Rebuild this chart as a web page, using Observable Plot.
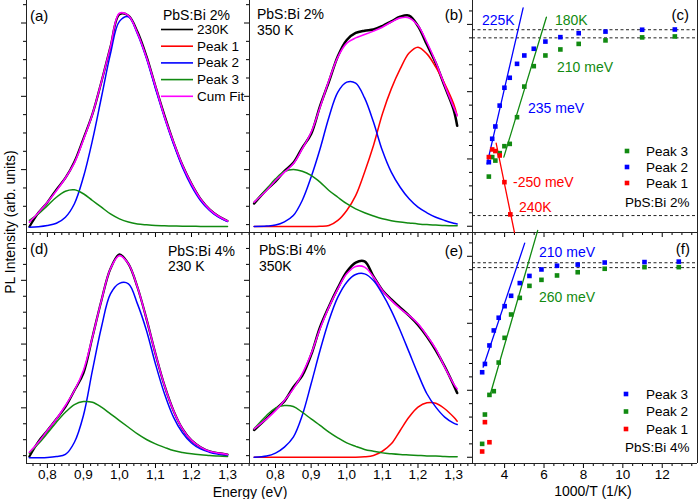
<!DOCTYPE html>
<html><head><meta charset="utf-8">
<script src="https://cdn.jsdelivr.net/npm/d3@7"></script>
<script src="https://cdn.jsdelivr.net/npm/@observablehq/plot@0.6"></script>
<style>
body{margin:0;background:#fff;}
#root{position:relative;width:700px;height:499px;overflow:hidden;font-family:"Liberation Sans",Arial,sans-serif;background:#fff;}
#root svg{position:absolute;overflow:visible;max-width:none;}
</style></head><body><div id="root"></div>
<script>
// ---------- DATA (intensities in % of panel height) ----------
const eLeft  = [0.75,0.775,0.8,0.825,0.85,0.875,0.9,0.925,0.95,0.975,1.0,1.025,1.05,1.075,1.1,1.125,1.15,1.175,1.2,1.225,1.25,1.275,1.3];
const eRight = [0.74,0.775,0.8,0.825,0.85,0.875,0.9,0.925,0.95,0.975,1.0,1.025,1.05,1.075,1.1,1.125,1.15,1.175,1.2,1.225,1.25,1.275,1.3,1.31];

// (a) PbS:Bi 2%, 230K
const aData  = [2.5,8.5,13,18.5,23.5,30.5,40.5,51,65,80,94,93.5,86.5,76,63,50.5,39,29,21,14.5,10,7,5];
const aFit   = [4.5,8.5,13,18,23.5,30,40,51,65,80,94.5,93.5,86,75.5,63,50,39,29,21,14.5,10,7,5];
const aPeak2 = [2.3,2.5,3.0,4.0,6.6,12.4,23.9,39.7,58.3,77,91,93,85.6,75,62,49.5,38.2,28,20,13.8,9.5,6.6,4.7];
const aPeak3 = [5.2,8,11.6,15.2,17.8,18.4,16.7,13.8,10.9,8,5.9,4.5,3.7,3.3,3.0,2.9,2.8,2.7,2.7,2.6,2.6,2.6,2.6];

// (b) PbS:Bi 2%, 350 K
const bData  = [12.5,18.5,22,26.5,30,36.5,42.5,54.5,65,76,83,86,87,87.5,89,91,93,93.5,89,81,73,63,53,46];
const bFit   = [13.1,18.1,22.4,26,29.6,36,43.2,54,65.5,75.6,81.6,83.9,85.3,86.8,88.5,90.7,92.5,92.5,89.2,82,73.4,63.4,54,50.4];
const bPeak1 = [2.6,2.6,2.6,2.6,2.6,2.6,2.6,2.7,3.0,5.2,9.5,15.9,26,37.5,51.1,61.9,70.5,77.4,79.9,77,71.3,64.1,55.5,50.4];
const bPeak2 = [2.6,2.8,3.2,4.6,7.3,13.8,23.9,36,49.7,60.5,64.8,64.4,58,47.6,35.3,26,19.5,14.5,10.9,8.5,6.6,5.2,4.0,3.7];
const bPeak3 = [13,18.8,23.1,26.3,27.2,26.4,24.6,21.7,18.1,15.2,12.4,10.2,8.5,7.1,5.9,5.1,4.5,4.1,3.7,3.4,3.2,3.0,2.9,2.9];

// (d) PbS:Bi 4%, 230 K
const dData  = [3.0,9.5,14.3,19.3,24.5,31.6,39,54.7,70.6,84.3,90.5,86.4,76.3,62.6,47.5,33.8,22.9,15,10,7.1,5.3,4.5,3.9];
const dFit   = [4.9,9.2,14.3,19.3,25.1,31.6,40.3,54.7,70.6,84.3,90,86.4,76.3,62.6,47.5,33.8,22.9,15,10,7.1,5.3,4.5,3.9];
const dPeak2 = [2.5,2.5,2.6,3.0,3.9,9.2,20.8,40.3,59,73.4,78,77.8,69.1,57.6,43.1,30.2,20.1,13.3,8.9,6.3,4.9,4.0,3.3];
const dPeak3 = [4.5,8.5,13.1,17.9,22.2,25.5,26.8,26.5,24.4,21.5,18.6,15.7,12.8,10.4,8.5,7.0,5.6,4.8,4.2,3.8,3.5,3.2,3.0];

// (e) PbS:Bi 4%, 350K
const eData  = [14.5,19.5,23.5,27,33,38,47,59,68,76,83,87,87.5,81,75,71,67.5,64,60,55,49,42,34,30.5];
const eFit   = [15,19.3,22.9,27.3,32.3,38.8,47.5,58.3,67.7,75.6,82.1,85.3,85,80.7,74.9,70.6,67,64.1,60.5,55.4,49.6,41.7,34.5,32.3];
const ePeak1 = [2.7,2.7,2.7,2.7,2.7,2.7,2.7,2.7,2.7,2.7,2.7,2.7,2.9,3.5,5.3,8.5,14.3,20.1,24.4,26.3,26.1,23.7,20.1,18.3];
const ePeak2 = [2.7,3.2,4.5,7.1,11.4,20.8,34.5,48.9,61.9,72,78.5,81.8,82.1,79.2,73.4,66.2,57.6,48.2,38.8,30.2,24.4,20.1,17.5,16.9];
const ePeak3 = [15,20.8,24,25.1,24.7,22.2,19.3,16.5,13.6,11.1,8.9,7.4,6.1,5.3,4.6,4.2,3.9,3.7,3.5,3.3,3.2,3.0,2.9,2.9];

// (c) Arrhenius, PbS:Bi 2%  (x = 1000/T, y = log intensity, arb.)
const cX     = [3.20,3.37,3.53,3.75,3.99,4.26,4.63,5.0,5.48,6.07,6.83,7.76,9.12,10.98,12.64];
const cBlue  = [30.3,40.4,45.7,54.7,62.4,66.7,72.7,76.3,79.2,82.3,84.2,85.9,86.6,87.4,87.5];
const cGreen = [24.1,32.5,31,34.2,37.2,38.2,49.7,62.9,71.7,76.3,78.9,81.3,82.8,84.1,84.5];
const cRedX  = [3.20,3.37,3.53,3.75,3.99,4.29];
const cRed   = [32.5,35.8,35.1,33.2,21.7,7.8];
const cBlueFitX = [3.11,4.94],  cBlueFitY = [29.6,96.8];
const cGreenFitX = [3.96,6.12], cGreenFitY = [32.5,92.8];
const cRedFitX = [3.57,4.5],    cRedFitY = [38.5,0];
const cDash = [87.4,83.9,7.3];

// (f) Arrhenius, PbS:Bi 4%
const fX     = [2.86,3.0,3.23,3.45,3.70,4.0,4.33,4.77,5.26,5.87,6.66,7.71,9.08,11.1,12.84];
const fBlue  = [39.5,43.1,51.1,57.6,63.1,68.1,72.6,78.1,81.2,84,85.6,86.1,87,87.2,87.4];
const fGreen = [8.5,21.2,29.7,31.3,43.7,54.4,64.5,71.7,76.9,79.5,81.4,82.8,84.3,85,85];
const fRedX  = [2.86,3.0,3.23];
const fRed   = [5.2,17.9,9.2];
const fBlueFitX = [2.91,5.02],  fBlueFitY = [41.7,95.4];
const fGreenFitX = [3.28,5.68], fGreenFitY = [30.2,100.9];
const fDash = [86.9,84.8];

// tick labels
const eMajor = [0.8,0.9,1.0,1.1,1.2,1.3];
const tMajor = [4,6,8,10,12];

// ---------- RENDER ----------
const FONT = '"Liberation Sans", Arial, Helvetica, sans-serif';
const COL = {red:"#ff0000", blue:"#0000ff", green:"#118a11", mag:"#ff00ff"};
const root = document.getElementById("root");
const comma = d => d.toFixed(1).replace(".", ",");
const none = () => "";
const M = {l: 40, r: 12, t: 12, b: 40};

function panel({x0, x1, y0, y1, xd, yd, marks}) {
  const w = x1 - x0, h = y1 - y0;
  const svg = Plot.plot({
    width: w + M.l + M.r, height: h + M.t + M.b,
    marginLeft: M.l, marginRight: M.r, marginTop: M.t, marginBottom: M.b,
    x: {domain: xd, axis: null, label: null},
    y: {domain: yd, axis: null, label: null},
    style: {fontFamily: FONT, fontSize: "14px", background: "transparent", color: "#000", overflow: "visible"},
    marks
  });
  svg.style.left = (x0 - M.l) + "px";
  svg.style.top = (y0 - M.t) + "px";
  root.appendChild(svg);
}

const zipS = (xs, ys) => xs.map((x, i) => ({x, y: ys[i]}));

function specPanel(pos, xd, E, d, labels, yStep) {
  const eMinor = d3.range(37, 69).filter(i => i % 5 !== 0).map(i => i * 0.02).filter(v => v > xd[0] && v < xd[1]);
  const yAll = d3.range(3.4, 100, yStep);
  const yMaj = yAll.filter((v, i) => i % 4 === 3);
  const yMin = yAll.filter((v, i) => i % 4 !== 3);
  const crv = "catmull-rom";
  const marks = [
    Plot.axisX(eMajor, {anchor: "bottom", tickSize: 5, tickPadding: 1, tickFormat: labels ? comma : none, fontSize: 13.5, label: null}),
    Plot.axisX(eMinor, {anchor: "bottom", tickSize: 3, tickFormat: none, label: null}),
    Plot.axisY(yMaj, {anchor: "left", tickSize: 5, tickFormat: none, label: null}),
    Plot.axisY(yMin, {anchor: "left", tickSize: 3, tickFormat: none, label: null}),
    Plot.ruleX([xd[0]], {stroke: "#222"}),
    Plot.ruleY([0], {stroke: "#222"}),
    Plot.line(zipS(E, d.data), {x: "x", y: "y", stroke: "#000", strokeWidth: d.dw, curve: crv})
  ];
  if (d.p1) marks.push(Plot.line(zipS(E, d.p1), {x: "x", y: "y", stroke: COL.red, strokeWidth: 1.5, curve: crv}));
  marks.push(Plot.line(zipS(E, d.p2), {x: "x", y: "y", stroke: COL.blue, strokeWidth: 1.5, curve: crv}));
  marks.push(Plot.line(zipS(E, d.p3), {x: "x", y: "y", stroke: COL.green, strokeWidth: 1.5, curve: crv}));
  marks.push(Plot.line(zipS(E, d.fit), {x: "x", y: "y", stroke: COL.mag, strokeWidth: 1.6, curve: crv}));
  panel({...pos, xd, yd: [0, 100], marks});
}

const xdL = [0.742, 1.361], xdR = [0.727, 1.353];
specPanel({x0: 26, x1: 249, y0: 0, y1: 232}, xdL, eLeft, {data: aData, fit: aFit, p2: aPeak2, p3: aPeak3, dw: 2.2}, false, 7.9);
specPanel({x0: 249, x1: 472, y0: 0, y1: 232}, xdR, eRight, {data: bData, fit: bFit, p1: bPeak1, p2: bPeak2, p3: bPeak3, dw: 2.5}, false, 7.9);
specPanel({x0: 26, x1: 249, y0: 232, y1: 463}, xdL, eLeft, {data: dData, fit: dFit, p2: dPeak2, p3: dPeak3, dw: 2.2}, true, 6.9);
specPanel({x0: 249, x1: 472, y0: 232, y1: 463}, xdR, eRight, {data: eData, fit: eFit, p1: ePeak1, p2: ePeak2, p3: ePeak3, dw: 2.5}, true, 6.9);

function arrPanel(pos, labels, d) {
  const xd = [2.37, 13.79];
  const tMinor = d3.range(5, 28).map(i => i * 0.5).filter(v => v % 2 !== 0);
  const yAll = d3.range(2.7, 100, 5.8);
  const yMaj = yAll.filter((v, i) => i % 5 === 0);
  const yMin = yAll.filter((v, i) => i % 5 !== 0);
  const marks = [
    Plot.axisX(tMajor, {anchor: "bottom", tickSize: 5, tickPadding: 1, tickFormat: labels ? (v => String(v)) : none, fontSize: 13.5, label: null}),
    Plot.axisX(tMinor, {anchor: "bottom", tickSize: 3, tickFormat: none, label: null}),
    Plot.axisY(yMaj, {anchor: "left", tickSize: 5, tickFormat: none, label: null}),
    Plot.axisY(yMin, {anchor: "left", tickSize: 3, tickFormat: none, label: null}),
    Plot.ruleX(xd, {stroke: "#222"}),
    Plot.ruleY([0], {stroke: "#222"}),
    Plot.ruleY(d.dash, {stroke: "#222", strokeDasharray: "3,2.5", strokeWidth: 1})
  ];
  for (const f of d.fits) marks.push(Plot.line(zipS(f.x, f.y), {x: "x", y: "y", stroke: f.c, strokeWidth: 1.3}));
  for (const s of d.pts) marks.push(Plot.dot(zipS(s.x, s.y), {x: "x", y: "y", fill: s.c, symbol: "square", r: 2.6}));
  panel({...pos, xd, yd: [0, 100], marks});
}

arrPanel({x0: 472, x1: 697, y0: 0, y1: 232}, false, {
  dash: cDash,
  fits: [{x: cBlueFitX, y: cBlueFitY, c: COL.blue}, {x: cGreenFitX, y: cGreenFitY, c: COL.green}, {x: cRedFitX, y: cRedFitY, c: COL.red}],
  pts: [{x: cX, y: cGreen, c: COL.green}, {x: cX, y: cBlue, c: COL.blue}, {x: cRedX, y: cRed, c: COL.red}]
});
arrPanel({x0: 472, x1: 697, y0: 232, y1: 463}, true, {
  dash: fDash,
  fits: [{x: fBlueFitX, y: fBlueFitY, c: COL.blue}, {x: fGreenFitX, y: fGreenFitY, c: COL.green}],
  pts: [{x: fX, y: fGreen, c: COL.green}, {x: fX, y: fBlue, c: COL.blue}, {x: fRedX, y: fRed, c: COL.red}]
});

// ---------- annotations, legends, titles ----------
const ov = d3.select(root).append("svg").attr("width", 700).attr("height", 499)
  .style("left", "0px").style("top", "0px").style("font-family", FONT);
function txt(x, y, s, o = {}) {
  const t = ov.append("text").attr("x", x).attr("y", y).attr("dominant-baseline", "central")
    .attr("font-size", o.size || 14).attr("fill", o.fill || "#000").attr("text-anchor", o.anchor || "start").text(s);
  if (o.rotate) t.attr("transform", `rotate(-90,${x},${y})`);
  return t;
}
function swatchLine(x1, x2, y, c) {
  ov.append("line").attr("x1", x1).attr("x2", x2).attr("y1", y).attr("y2", y).attr("stroke", c).attr("stroke-width", 1.6);
}
function swatchSq(x, y, c) {
  ov.append("rect").attr("x", x - 2.3).attr("y", y - 2.3).attr("width", 4.6).attr("height", 4.6).attr("fill", c);
}

// (a)
txt(30, 15, "(a)", {size: 15});
txt(163, 15, "PbS:Bi 2%");
const legA = [["230K", "#000"], ["Peak 1", COL.red], ["Peak 2", COL.blue], ["Peak 3", COL.green], ["Cum Fit", COL.mag]];
legA.forEach(([s, c], i) => { const y = 29.5 + i * 16.7; swatchLine(161, 193, y, c); txt(197, y, s, {size: 13.5}); });
// (b)
txt(257, 14, "PbS:Bi 2%");
txt(257, 30, "350 K");
txt(463, 14, "(b)", {size: 15, anchor: "end"});
// (c)
txt(689, 14, "(c)", {size: 15, anchor: "end"});
txt(482, 20, "225K", {fill: COL.blue});
txt(555, 20, "180K", {fill: COL.green});
txt(557, 67, "210 meV", {fill: COL.green});
txt(528, 108, "235 meV", {fill: COL.blue});
txt(513, 182, "-250 meV", {fill: COL.red});
txt(519, 207, "240K", {fill: COL.red});
[["Peak 3", COL.green], ["Peak 2", COL.blue], ["Peak 1", COL.red]].forEach(([s, c], i) => {
  const y = 151 + i * 16; swatchSq(627, y, c); txt(646, y, s, {size: 13.5});
});
txt(625, 202, "PbS:Bi 2%", {size: 13.5});
// (d)
txt(30, 248, "(d)", {size: 15});
txt(168, 251, "PbS:Bi 4%");
txt(168, 266, "230 K");
// (e)
txt(259, 250, "PbS:Bi 4%");
txt(259, 266, "350K");
txt(463, 250, "(e)", {size: 15, anchor: "end"});
// (f)
txt(690, 248, "(f)", {size: 15, anchor: "end"});
txt(539, 252, "210 meV", {fill: COL.blue});
txt(539, 297, "260 meV", {fill: COL.green});
[["Peak 3", COL.blue], ["Peak 2", COL.green], ["Peak 1", COL.red]].forEach(([s, c], i) => {
  const y = 394 + i * 17.5; swatchSq(626, y, c); txt(646, y, s, {size: 13.5});
});
txt(625, 447, "PbS:Bi 4%", {size: 13.5});
// axis titles
txt(10, 222, "PL Intensity  (arb. units)", {anchor: "middle", rotate: true});
txt(250, 491.5, "Energy (eV)", {anchor: "middle"});
txt(593, 490.5, "1000/T (1/K)", {anchor: "middle"});
</script></body></html>
